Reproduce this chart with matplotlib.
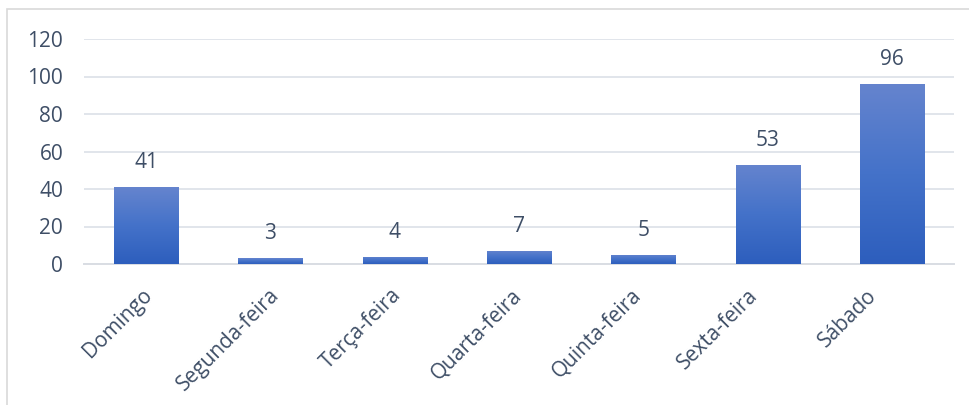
import matplotlib
matplotlib.use("Agg")
import matplotlib.pyplot as plt
from matplotlib.colors import LinearSegmentedColormap
from matplotlib.patches import Rectangle
from matplotlib.transforms import ScaledTranslation
import numpy as np

# chart data
days = ["Domingo", "Segunda-feira", "Terça-feira", "Quarta-feira",
        "Quinta-feira", "Sexta-feira", "Sábado"]
counts = [41, 3, 4, 7, 5, 53, 96]
y_ticks = [0, 20, 40, 60, 80, 100, 120]

text_color = "#3E4E66"
grid_color = "#E1E5EB"
plt.rcParams["font.family"] = ["Open Sans", "DejaVu Sans"]

fig = plt.figure(figsize=(9.69, 4.05), dpi=100)
ax = fig.add_axes([84 / 969, (405 - 264) / 405, 870 / 969, 225 / 405])

# light frame round the chart area (only left and top are visible)
fig.patches.append(Rectangle((7 / 969, -0.1), 1.2, (405 - 9) / 405 + 0.1,
                             transform=fig.transFigure, fill=False,
                             edgecolor="#D9D9D9", lw=1.2))

x = np.arange(len(days))
bars = ax.bar(x, counts, width=0.515, color="none", edgecolor="none", zorder=3)

# vertical gradient inside each bar
cmap = LinearSegmentedColormap.from_list("bar", ["#2D5EBD", "#4472C9", "#6584CE"])
grad = np.linspace(0, 1, 256).reshape(-1, 1)
for b in bars:
    x0, w, h = b.get_x(), b.get_width(), b.get_height()
    im = ax.imshow(grad, cmap=cmap, origin="lower", aspect="auto",
                   extent=(x0, x0 + w, 0, h), zorder=3)
    im.set_clip_path(b)

for xi, v in zip(x, counts):
    ax.annotate(str(v), (xi, v), xytext=(0, 10), textcoords="offset points",
                ha="center", va="bottom", fontsize=15, color=text_color)

ax.set_xlim(-0.5, len(days) - 0.5)
ax.set_ylim(0, 120)
ax.set_yticks(y_ticks)
ax.yaxis.grid(True, color=grid_color, lw=1.4, zorder=0)
ax.set_axisbelow(True)
for s in ["top", "right", "left"]:
    ax.spines[s].set_visible(False)
ax.spines["bottom"].set_color("#D9DDE3")
ax.spines["bottom"].set_linewidth(1.4)

ax.tick_params(axis="both", length=0, labelsize=15, labelcolor=text_color)
ax.tick_params(axis="y", pad=15)
ax.set_xticks(x)
ax.set_xticklabels(days, rotation=45, ha="right", rotation_mode="anchor")
ax.tick_params(axis="x", pad=15)

# Excel nudges the rotated labels a little sideways
shifts_px = [-5, -2, -4, -8, -13, -20, -26]
for lab, dx in zip(ax.get_xticklabels(), shifts_px):
    lab.set_transform(lab.get_transform() + ScaledTranslation(dx / 100, 0, fig.dpi_scale_trans))

fig.savefig("out.png", dpi=100)
